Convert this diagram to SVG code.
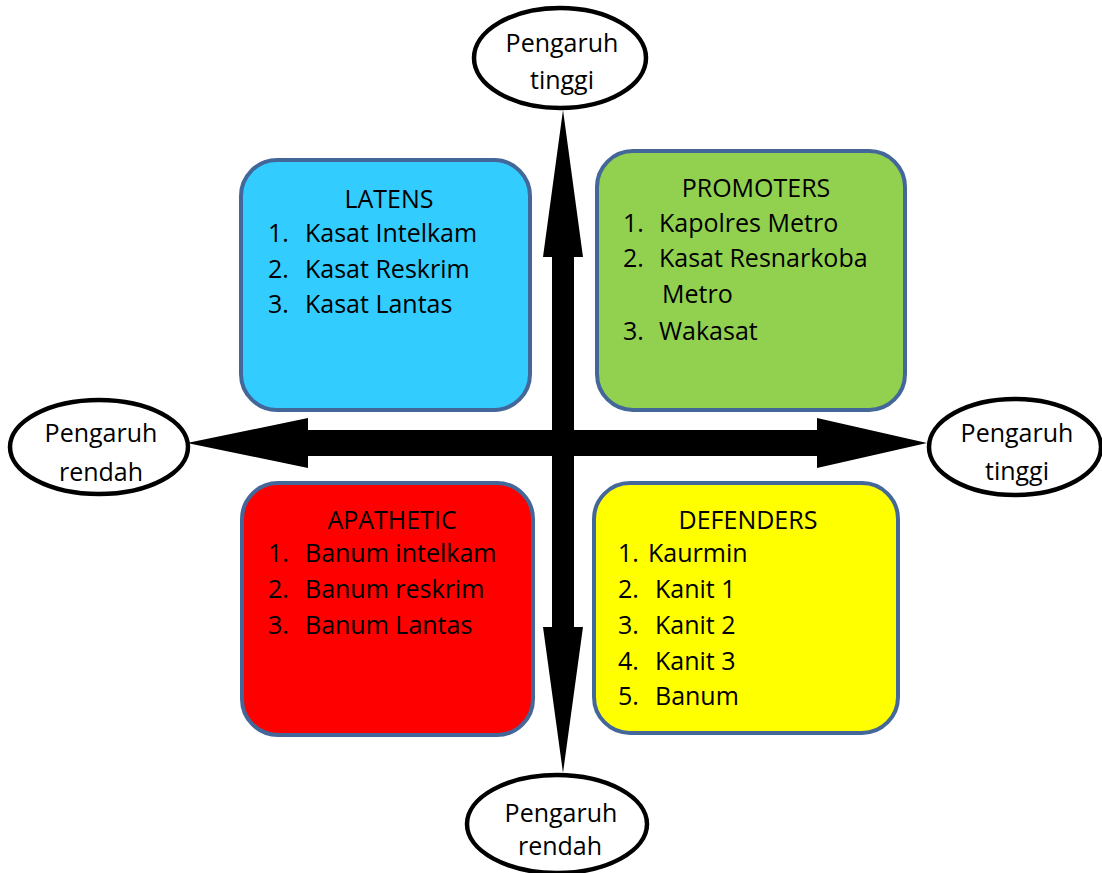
<svg xmlns="http://www.w3.org/2000/svg" width="1102" height="873" viewBox="0 0 1102 873">
  <style>
    .box { stroke: #44679a; stroke-width: 4; }
    .pole { fill: #ffffff; stroke: #000000; stroke-width: 4.5; }
    text { font-family: "Open Sans", "Noto Sans", "Liberation Sans", sans-serif; font-size: 25px; fill: #000000; }
    .mid { text-anchor: middle; }
  </style>
  <rect width="1102" height="873" fill="#ffffff"/>

  <!-- axes: two double-headed block arrows -->
  <g id="connectors" fill="#000000">
    <polygon id="axis-horizontal" points="187,443 308,418 308,430 817,430 817,418 927,443 817,468 817,456 308,456 308,468"/>
    <polygon id="axis-vertical" points="563,110 583,257 574,257 574,627 583,627 563,773 543,627 552,627 552,257 543,257"/>
  </g>

  <!-- axis end labels -->
  <g id="pole-top">
    <ellipse class="pole" cx="560" cy="58" rx="86" ry="50"/>
    <text class="mid" x="562" y="52">Pengaruh</text>
    <text class="mid" x="562" y="89">tinggi</text>
  </g>
  <g id="pole-left">
    <ellipse class="pole" cx="99" cy="447" rx="89" ry="47"/>
    <text class="mid" x="101" y="442">Pengaruh</text>
    <text class="mid" x="101" y="481">rendah</text>
  </g>
  <g id="pole-right">
    <ellipse class="pole" cx="1015" cy="447" rx="86" ry="48"/>
    <text class="mid" x="1017" y="442">Pengaruh</text>
    <text class="mid" x="1017" y="480">tinggi</text>
  </g>
  <g id="pole-bottom">
    <ellipse class="pole" cx="557" cy="824" rx="90" ry="49"/>
    <text class="mid" x="561" y="822">Pengaruh</text>
    <text class="mid" x="560" y="855">rendah</text>
  </g>

  <!-- quadrants -->
  <g id="latens">
    <rect class="box" x="241" y="160" width="289" height="250" rx="36" fill="#33ccff"/>
    <text class="mid" x="389" y="208">LATENS</text>
    <text x="268" y="242">1.</text><text x="305" y="242">Kasat Intelkam</text>
    <text x="268" y="278">2.</text><text x="305" y="278">Kasat Reskrim</text>
    <text x="268" y="313">3.</text><text x="305" y="313">Kasat Lantas</text>
  </g>
  <g id="promoters">
    <rect class="box" x="597" y="151" width="308" height="259" rx="36" fill="#92d050"/>
    <text class="mid" x="756" y="197">PROMOTERS</text>
    <text x="623" y="232">1.</text><text x="659" y="232">Kapolres Metro</text>
    <text x="623" y="267">2.</text><text x="659" y="267">Kasat Resnarkoba</text>
    <text x="662" y="303">Metro</text>
    <text x="623" y="340">3.</text><text x="659" y="340">Wakasat</text>
  </g>
  <g id="apathetic">
    <rect class="box" x="242" y="483" width="291" height="252" rx="36" fill="#ff0000"/>
    <text class="mid" x="392" y="529">APATHETIC</text>
    <text x="268" y="562">1.</text><text x="305" y="562">Banum intelkam</text>
    <text x="268" y="598">2.</text><text x="305" y="598">Banum reskrim</text>
    <text x="268" y="634">3.</text><text x="305" y="634">Banum Lantas</text>
  </g>
  <g id="defenders">
    <rect class="box" x="594" y="483" width="304" height="250" rx="36" fill="#ffff00"/>
    <text class="mid" x="748" y="529">DEFENDERS</text>
    <text x="618" y="562">1.</text><text x="648" y="562">Kaurmin</text>
    <text x="618" y="598">2.</text><text x="655" y="598">Kanit 1</text>
    <text x="618" y="634">3.</text><text x="655" y="634">Kanit 2</text>
    <text x="618" y="670">4.</text><text x="655" y="670">Kanit 3</text>
    <text x="618" y="705">5.</text><text x="655" y="705">Banum</text>
  </g>
</svg>
